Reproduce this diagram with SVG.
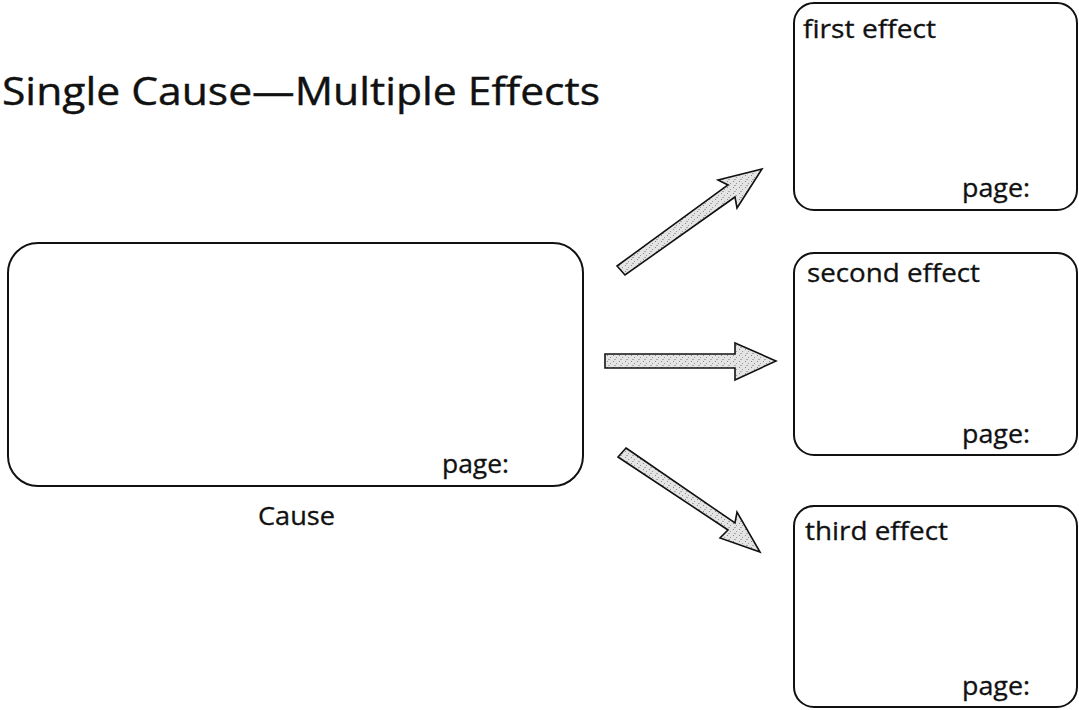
<svg xmlns="http://www.w3.org/2000/svg" width="1079" height="710" viewBox="0 0 1079 710">
<style>
  .box{fill:#fff;stroke:#111;stroke-width:2}
  .lbl{font-family:"Open Sans","Noto Sans",sans-serif;font-size:25px;fill:#111;stroke:#111;stroke-width:0.3}
  .title{font-family:"Open Sans","Noto Sans",sans-serif;font-size:38px;fill:#111;stroke:#111;stroke-width:0.4}
  .arrow{fill:url(#stip);stroke:#111;stroke-width:1.6;stroke-linejoin:miter}
</style>
<defs>
  <pattern id="stip" width="6" height="6" patternUnits="userSpaceOnUse">
    <rect width="6" height="6" fill="#e4e4e4"/>
    <rect x="1" y="1" width="1" height="1" fill="#888"/>
    <rect x="4" y="3" width="1" height="1" fill="#999"/>
    <rect x="2" y="5" width="2" height="1" fill="#aaa"/>
  </pattern>
</defs>
<rect width="1079" height="710" fill="#fff"/>
<text class="title" x="2" y="105" textLength="598" lengthAdjust="spacingAndGlyphs">Single Cause—Multiple Effects</text>

<g id="cause">
  <rect class="box" x="8" y="243" width="575" height="243" rx="30" ry="30"/>
  <text class="lbl" x="442" y="473" textLength="67" lengthAdjust="spacingAndGlyphs">page:</text>
  <text class="lbl" x="258" y="525" textLength="77" lengthAdjust="spacingAndGlyphs">Cause</text>
</g>

<g id="effect1">
  <rect class="box" x="794" y="3" width="283" height="207" rx="20" ry="20"/>
  <text class="lbl" x="803" y="38" textLength="133" lengthAdjust="spacingAndGlyphs">first effect</text>
  <text class="lbl" x="962" y="197" textLength="68" lengthAdjust="spacingAndGlyphs">page:</text>
</g>

<g id="effect2">
  <rect class="box" x="794" y="253" width="283" height="202" rx="20" ry="20"/>
  <text class="lbl" x="807" y="282" textLength="173" lengthAdjust="spacingAndGlyphs">second effect</text>
  <text class="lbl" x="962" y="443" textLength="68" lengthAdjust="spacingAndGlyphs">page:</text>
</g>

<g id="effect3">
  <rect class="box" x="794" y="506" width="283" height="201" rx="20" ry="20"/>
  <text class="lbl" x="805" y="540" textLength="143" lengthAdjust="spacingAndGlyphs">third effect</text>
  <text class="lbl" x="962" y="695" textLength="68" lengthAdjust="spacingAndGlyphs">page:</text>
</g>

<g id="connectors">
  <polygon class="arrow" points="617,266 728,185 718,180 762,169 737,208 735,197 625,275"/>
  <polygon class="arrow" points="605,354 735,354 735,343 776,361 735,380 735,368 605,368"/>
  <polygon class="arrow" points="626,448 735,523 737,512 760,552 720,538 728,530 618,457"/>
</g>
</svg>
